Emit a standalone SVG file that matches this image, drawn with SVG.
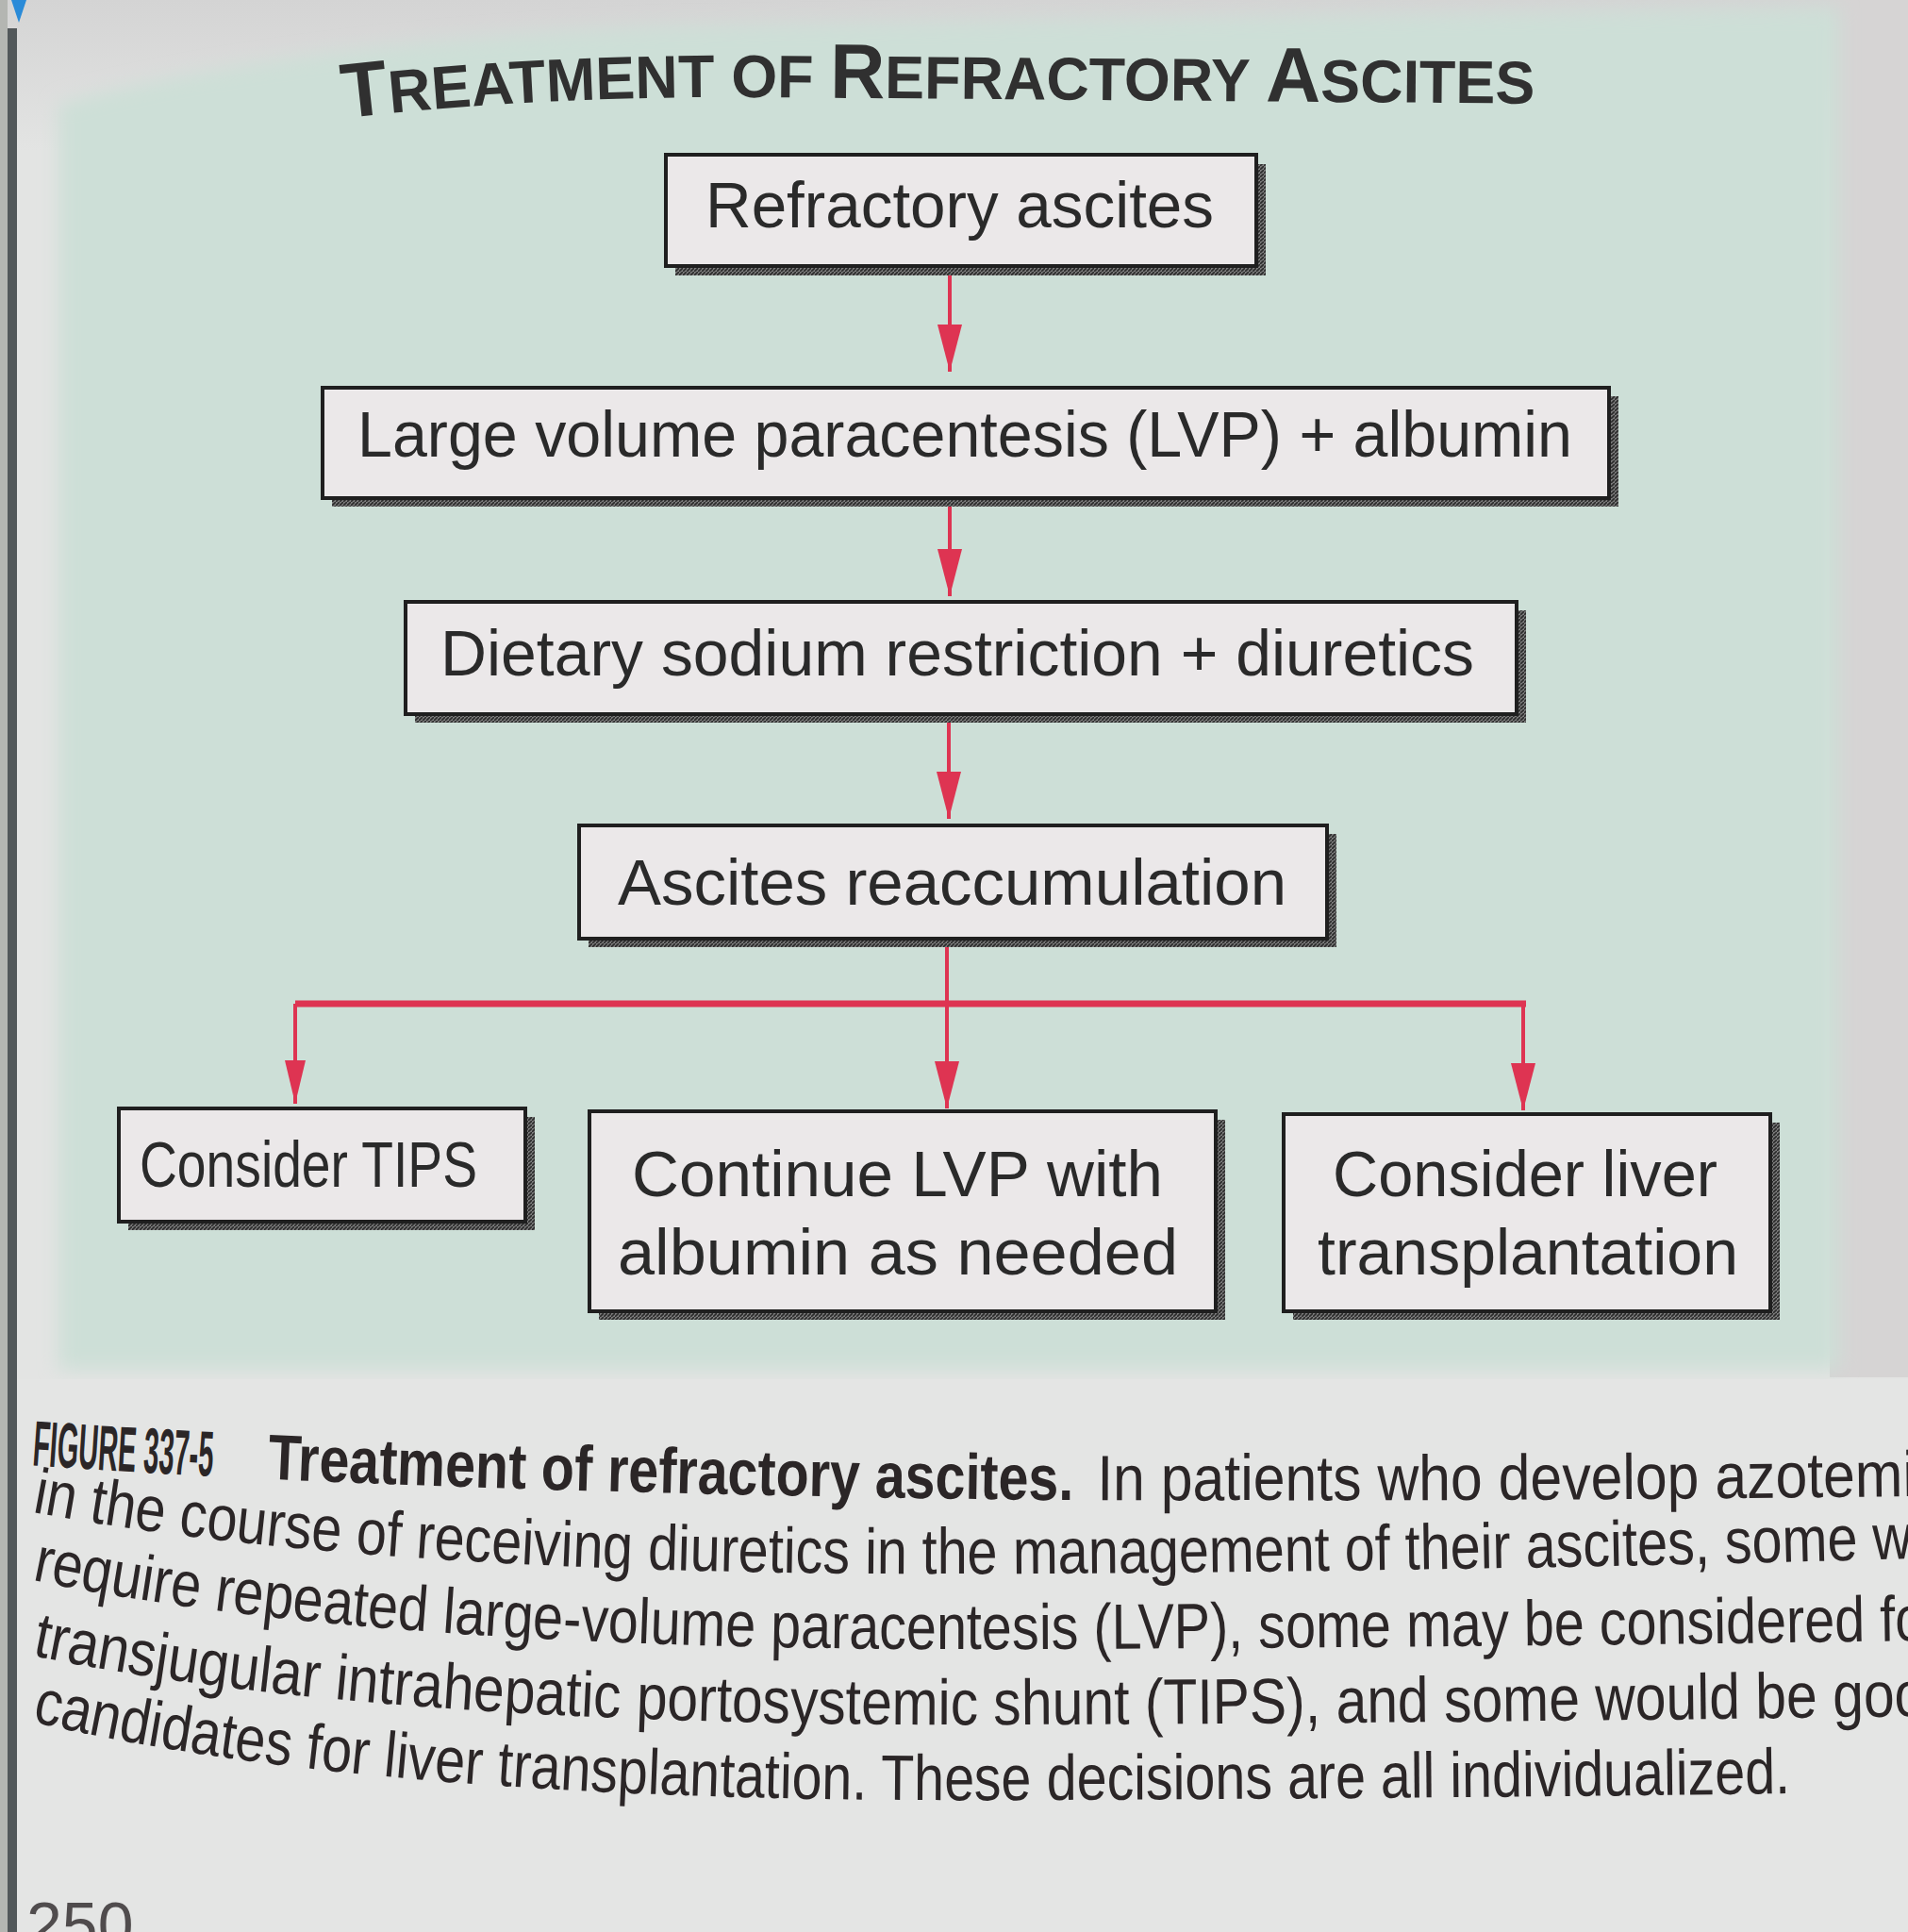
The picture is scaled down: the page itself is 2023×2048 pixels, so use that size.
<svg xmlns="http://www.w3.org/2000/svg" xmlns:xlink="http://www.w3.org/1999/xlink" width="2023" height="2048" viewBox="0 0 2023 2048">
  <defs>
    <style>
      .box { fill: #ebe8e9; stroke: #1f1f1f; stroke-width: 4; }
      .shadow { fill: url(#hatch); }
      .lbl { font-family: "Liberation Sans", Arial, Helvetica, sans-serif; font-size: 69px; fill: #2a2a2a; }
      .conn { stroke: #de3452; stroke-width: 4; fill: none; }
      .bar { stroke: #de3452; stroke-width: 7; fill: none; }
      .title { font-family: "Liberation Sans", Arial, Helvetica, sans-serif; font-weight: 700; fill: #303030; }
      .cap { font-family: "Liberation Sans", Arial, Helvetica, sans-serif; font-size: 68px; fill: #2b2627; }
      .capb { font-weight: 700; }
    </style>
    <pattern id="hatch" patternUnits="userSpaceOnUse" width="4" height="4">
      <rect width="4" height="4" fill="#7a7a7a"/>
      <path d="M0 4 L4 0" stroke="#2b2b2b" stroke-width="1.6"/>
    </pattern>
    <marker id="ah" markerUnits="userSpaceOnUse" viewBox="0 0 50 26" markerWidth="50" markerHeight="26" refX="50" refY="13" orient="auto">
      <path d="M0 0 L50 13 L0 26 Z" fill="#de3452"/>
    </marker>
    <marker id="ahs" markerUnits="userSpaceOnUse" viewBox="0 0 46 22" markerWidth="46" markerHeight="22" refX="46" refY="11" orient="auto">
      <path d="M0 0 L46 11 L0 22 Z" fill="#de3452"/>
    </marker>
    <filter id="soft" x="-5%" y="-5%" width="110%" height="110%">
      <feGaussianBlur stdDeviation="10"/>
    </filter>
    <linearGradient id="topg" x1="0" y1="0" x2="0" y2="1">
      <stop offset="0" stop-color="#d4d4d4"/>
      <stop offset="1" stop-color="#e3e4e3"/>
    </linearGradient>
    <path id="tp" d="M360 126 Q 560 102 800 103 L 1660 110"/>
    <path id="p1" d="M30 1553 Q 400 1580 1100 1590 Q 1600 1592 2100 1585"/>
    <path id="p2" d="M30 1602 Q 400 1673 1100 1668 Q 1600 1665 2100 1650"/>
    <path id="p3" d="M30 1674 Q 400 1752 1100 1748 Q 1600 1746 2100 1738"/>
    <path id="p4" d="M30 1754 Q 400 1832 1100 1828 Q 1600 1826 2100 1818"/>
    <path id="p5" d="M30 1824 Q 400 1913 1100 1908 Q 1600 1906 2100 1898"/>
  </defs>

  <!-- page background -->
  <rect x="0" y="0" width="2023" height="2048" fill="#e3e4e3"/>
  <rect x="0" y="0" width="2023" height="160" fill="url(#topg)"/>
  <rect x="1940" y="0" width="83" height="1460" fill="#d6d4d4"/>
  <path d="M62 110 Q 300 45 700 28 L 1950 8 L 1950 1452 L 62 1452 Z" fill="#cddfd7" filter="url(#soft)"/>
  <rect x="0" y="1462" width="2023" height="586" fill="#e4e5e4"/>
  <rect x="0" y="0" width="8" height="2048" fill="#b4b6b2"/>
  <rect x="8" y="30" width="10" height="2018" fill="#52585a"/>
  <polygon points="12,0 28,0 20,24" fill="#2a8bd8"/>

  <!-- title -->
  <text class="title"><textPath xlink:href="#tp" href="#tp" startOffset="5" textLength="1263" lengthAdjust="spacingAndGlyphs"><tspan font-size="82">T</tspan><tspan font-size="64">REATMENT OF </tspan><tspan font-size="82">R</tspan><tspan font-size="64">EFRACTORY </tspan><tspan font-size="82">A</tspan><tspan font-size="64">SCITES</tspan></textPath></text>

  <!-- connectors -->
  <g id="connectors">
    <path class="conn" d="M1007 285 V394" marker-end="url(#ah)"/>
    <path class="conn" d="M1007 531 V632" marker-end="url(#ah)"/>
    <path class="conn" d="M1006 760 V868" marker-end="url(#ah)"/>
    <path class="conn" d="M1004 998 V1064"/>
    <path class="bar" d="M313 1064 H1618"/>
    <path class="conn" d="M313 1064 V1170" marker-end="url(#ahs)"/>
    <path class="conn" d="M1004 1064 V1175" marker-end="url(#ah)"/>
    <path class="conn" d="M1615 1064 V1177" marker-end="url(#ah)"/>
  </g>

  <!-- nodes -->
  <g id="node-refractory">
    <rect class="shadow" x="716" y="174" width="626" height="118"/>
    <rect class="box" x="706" y="164" width="626" height="118"/>
    <text class="lbl" x="748" y="241" textLength="539" lengthAdjust="spacingAndGlyphs">Refractory ascites</text>
  </g>
  <g id="node-lvp">
    <rect class="shadow" x="352" y="420" width="1364" height="117"/>
    <rect class="box" x="342" y="411" width="1364" height="117"/>
    <text class="lbl" x="379" y="484" textLength="1288" lengthAdjust="spacingAndGlyphs">Large volume paracentesis (LVP) + albumin</text>
  </g>
  <g id="node-diet">
    <rect class="shadow" x="440" y="647" width="1178" height="119"/>
    <rect class="box" x="430" y="638" width="1178" height="119"/>
    <text class="lbl" x="467" y="716" textLength="1096" lengthAdjust="spacingAndGlyphs">Dietary sodium restriction + diuretics</text>
  </g>
  <g id="node-reaccum">
    <rect class="shadow" x="624" y="884" width="793" height="120"/>
    <rect class="box" x="614" y="875" width="793" height="120"/>
    <text class="lbl" x="655" y="959" textLength="709" lengthAdjust="spacingAndGlyphs">Ascites reaccumulation</text>
  </g>
  <g id="node-tips">
    <rect class="shadow" x="136" y="1184" width="431" height="120"/>
    <rect class="box" x="126" y="1175" width="431" height="120"/>
    <text class="lbl" x="148" y="1258" textLength="358" lengthAdjust="spacingAndGlyphs">Consider TIPS</text>
  </g>
  <g id="node-continue">
    <rect class="shadow" x="635" y="1187" width="664" height="212"/>
    <rect class="box" x="625" y="1178" width="664" height="212"/>
    <text class="lbl" x="670" y="1268" textLength="563" lengthAdjust="spacingAndGlyphs">Continue LVP with</text>
    <text class="lbl" x="655" y="1351" textLength="594" lengthAdjust="spacingAndGlyphs">albumin as needed</text>
  </g>
  <g id="node-transplant">
    <rect class="shadow" x="1371" y="1190" width="516" height="209"/>
    <rect class="box" x="1361" y="1181" width="516" height="209"/>
    <text class="lbl" x="1413" y="1268" textLength="408" lengthAdjust="spacingAndGlyphs">Consider liver</text>
    <text class="lbl" x="1397" y="1351" textLength="446" lengthAdjust="spacingAndGlyphs">transplantation</text>
  </g>

  <!-- caption -->
  <g id="caption">
    <text class="cap capb" font-size="58"><textPath xlink:href="#p1" href="#p1" startOffset="4" textLength="192" lengthAdjust="spacingAndGlyphs">FIGURE 337-5</textPath></text>
    <text class="cap capb"><textPath xlink:href="#p1" href="#p1" startOffset="254" textLength="855" lengthAdjust="spacingAndGlyphs">Treatment of refractory ascites.</textPath></text>
    <text class="cap"><textPath xlink:href="#p1" href="#p1" startOffset="1134" textLength="868" lengthAdjust="spacingAndGlyphs">In patients who develop azotemi</textPath></text>
    <text class="cap"><textPath xlink:href="#p2" href="#p2" startOffset="4" textLength="2010" lengthAdjust="spacingAndGlyphs">in the course of receiving diuretics in the management of their ascites, some wi</textPath></text>
    <text class="cap"><textPath xlink:href="#p3" href="#p3" startOffset="4" textLength="2012" lengthAdjust="spacingAndGlyphs">require repeated large-volume paracentesis (LVP), some may be considered fo</textPath></text>
    <text class="cap"><textPath xlink:href="#p4" href="#p4" startOffset="4" textLength="2012" lengthAdjust="spacingAndGlyphs">transjugular intrahepatic portosystemic shunt (TIPS), and some would be goo</textPath></text>
    <text class="cap"><textPath xlink:href="#p5" href="#p5" startOffset="4" textLength="1870" lengthAdjust="spacingAndGlyphs">candidates for liver transplantation. These decisions are all individualized.</textPath></text>
    <text class="cap" x="28" y="2064" font-size="58" fill-opacity="0.8">250</text>
  </g>
</svg>
